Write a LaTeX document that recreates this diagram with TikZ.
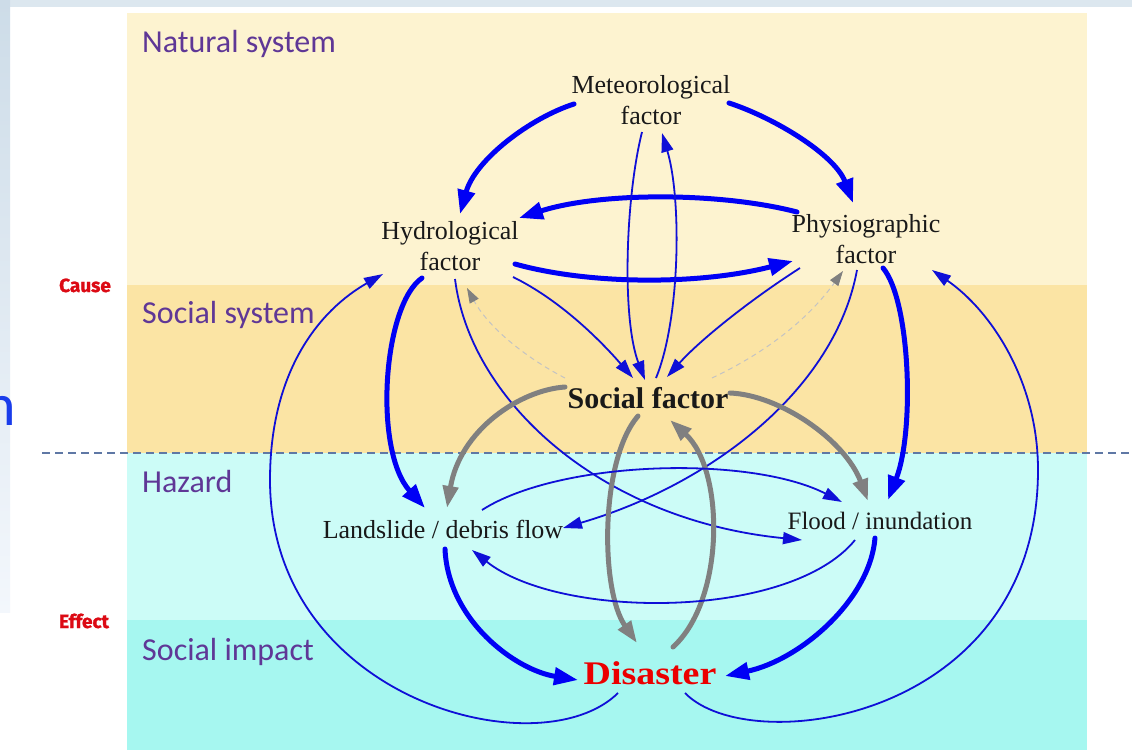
\documentclass[tikz,border=0pt]{standalone}
\usepackage{fontspec}
\usepackage{graphicx}
\setmainfont{Liberation Serif}
\newfontfamily\calib{Carlito}
\newfontfamily\heavy{Fira Sans}[BoldFeatures={FakeBold=1.3}]
\usetikzlibrary{arrows.meta}
\definecolor{natural}{RGB}{253,243,208}
\definecolor{socsys}{RGB}{251,228,164}
\definecolor{hazard}{RGB}{204,252,247}
\definecolor{impact}{RGB}{166,247,240}
\definecolor{labpurple}{RGB}{95,55,150}
\definecolor{dashline}{RGB}{95,120,165}
\definecolor{causered}{RGB}{220,10,20}
\definecolor{disred}{RGB}{235,0,0}
\definecolor{bthick}{RGB}{0,0,245}
\definecolor{bthin}{RGB}{15,15,215}
\definecolor{garr}{RGB}{128,128,128}
\definecolor{gdash}{RGB}{195,195,195}
\definecolor{nblue}{RGB}{25,60,235}
\definecolor{slidebg}{RGB}{205,220,232}
\definecolor{slidelow}{RGB}{243,247,252}
\definecolor{txt}{RGB}{25,25,25}
\begin{document}
\begin{tikzpicture}[x=1pt,y=-1pt,
  fac/.style={font=\fontsize{26}{31}\selectfont, align=center, inner sep=0pt, text=txt},
  bandlabel/.style={font=\calib\fontsize{32}{36}\selectfont, text=labpurple, anchor=base west, inner sep=0pt},
  sidelabel/.style={font=\heavy\bfseries\fontsize{19}{22}\selectfont, text=causered, anchor=base, inner sep=0pt},
  arrthick/.style={draw=bthick, line width=5pt, line cap=round, -{Triangle[length=24pt,width=17pt]}},
  arrthin/.style={draw=bthin, line width=1.8pt, -{Triangle[length=19pt,width=12pt]}},
  arrgray/.style={draw=garr, line width=5pt, line cap=round, -{Triangle[length=22pt,width=15pt]}},
  arrdash/.style={draw=gdash, line width=1pt, dash pattern=on 5pt off 4pt, -{Triangle[length=15pt,width=10pt,fill=garr,color=garr]}},
]
\useasboundingbox (0,0) rectangle (1132,750);
% slide background
\fill[white] (0,0) rectangle (1132,750);
\fill[slidebg!70!white] (0,0) rectangle (1132,7);
\shade[top color=slidebg, bottom color=slidelow] (0,0) rectangle (10,612);
% bands
\fill[natural] (127,13) rectangle (1087,285);
\fill[socsys] (127,285) rectangle (1087,453);
\fill[hazard] (127,453) rectangle (1087,620);
\fill[impact] (127,620) rectangle (1087,750);
\draw[dashline, line width=1.5pt, dash pattern=on 8pt off 5pt] (42,453) -- (1132,453);
% band labels
\node[bandlabel] (lnat) at (142,52) {Natural system};
\node[bandlabel] (lsoc) at (142,323) {Social system};
\node[bandlabel] (lhaz) at (142,492) {Hazard};
\node[bandlabel] (limp) at (142,660) {Social impact};
\node[sidelabel] (cause) at (85,292) {Cause};
\node[sidelabel] (effect) at (84,628) {Effect};
\node[font=\calib\fontsize{60}{60}\selectfont, text=nblue, anchor=base east, inner sep=0pt] (nn) at (16,425) {n};
% factor nodes
\node[fac] (met) at (651,100) {Meteorological\\factor};
\node[fac] (hyd) at (450,246) {Hydrological\\factor};
\node[fac] (phy) at (866,239) {Physiographic\\factor};
\node[font=\bfseries\fontsize{30}{34}\selectfont, inner sep=0pt, text=txt] (soc) at (648,398) {Social factor};
\node[font=\fontsize{26}{31}\selectfont, inner sep=0pt, text=txt] (land) at (443,529) {Landslide / debris flow};
\node[font=\fontsize{25}{30}\selectfont, inner sep=0pt, text=txt] (flood) at (880,521) {Flood / inundation};
\node[font=\bfseries\fontsize{33}{36}\selectfont, inner sep=0pt, text=disred] (dis) at (650,673) {\scalebox{1.15}[1]{Disaster}};
% connectors among natural factors
\draw[arrthick] ([shift={(-77,4)}]met.center) .. controls (530,118) and (475,160) .. ([shift={(10,-32)}]hyd.center);
\draw[arrthick] ([shift={(78,3)}]met.center) .. controls (775,118) and (835,155) .. ([shift={(-13,-36)}]phy.center);
\draw[arrthick] ([shift={(-69,-27)}]phy.center) .. controls (720,192) and (600,192) .. ([shift={(69,-28)}]hyd.center);
\draw[arrthick] ([shift={(65,18)}]hyd.center) .. controls (590,285) and (700,285) .. ([shift={(-73,22)}]phy.center);
% to / from social factor
\draw[arrthin] ([shift={(-9,32)}]met.center) .. controls (625,200) and (622,320) .. ([shift={(-3,-18)}]soc.center);
\draw[arrthin] ([shift={(8,-20)}]soc.center) .. controls (680,320) and (682,200) .. ([shift={(11,33)}]met.center);
\draw[arrthin] ([shift={(63,31)}]hyd.center) .. controls (560,300) and (600,340) .. ([shift={(-15,-20)}]soc.center);
\draw[arrthin] ([shift={(-66,29)}]phy.center) .. controls (750,300) and (700,340) .. ([shift={(19,-21)}]soc.center);
\draw[arrdash] ([shift={(-83,-20)}]soc.center) .. controls (530,360) and (490,330) .. ([shift={(17,42)}]hyd.center);
\draw[arrdash] ([shift={(64,-20)}]soc.center) .. controls (750,360) and (800,330) .. ([shift={(-23,32)}]phy.center);
% natural factors to hazards
\draw[arrthick] ([shift={(-28,32)}]hyd.center) .. controls (383,305) and (373,450) .. ([shift={(-18,-21)}]land.center);
\draw[arrthin] ([shift={(5,33)}]hyd.center) .. controls (470,400) and (600,520) .. ([shift={(-78,19)}]flood.center);
\draw[arrthick] ([shift={(17,29)}]phy.center) .. controls (910,300) and (915,430) .. ([shift={(8,-21)}]flood.center);
\draw[arrthin] ([shift={(-9,31)}]phy.center) .. controls (835,390) and (710,485) .. ([shift={(120,-1)}]land.center);
% social factor to hazards and disaster
\draw[arrgray] ([shift={(-83,-11)}]soc.center) .. controls (520,390) and (460,430) .. ([shift={(4,-21)}]land.center);
\draw[arrgray] ([shift={(82,-5)}]soc.center) .. controls (780,395) and (845,440) .. ([shift={(-12,-20)}]flood.center);
\draw[arrgray] ([shift={(-10,18)}]soc.center) .. controls (600,460) and (600,590) .. ([shift={(-13,-30)}]dis.center);
\draw[arrgray] ([shift={(23,-26)}]dis.center) .. controls (725,600) and (725,470) .. ([shift={(22,22)}]soc.center);
% hazards
\draw[arrthin] ([shift={(39,-19)}]land.center) .. controls (560,460) and (750,455) .. ([shift={(-38,-19)}]flood.center);
\draw[arrthin] ([shift={(-25,19)}]flood.center) .. controls (790,620) and (560,620) .. ([shift={(29,21)}]land.center);
\draw[arrthick] ([shift={(2,20)}]land.center) .. controls (448,620) and (515,670) .. ([shift={(-72,7)}]dis.center);
\draw[arrthick] ([shift={(-5,17)}]flood.center) .. controls (870,600) and (800,660) .. ([shift={(75,3)}]dis.center);
% feedback loops
\draw[arrthin] ([shift={(-32,20)}]dis.center) .. controls (540,770) and (270,700) .. (270,480) .. controls (270,370) and (320,310) .. ([shift={(-67,28)}]hyd.center);
\draw[arrthin] ([shift={(35,20)}]dis.center) .. controls (750,760) and (1038,720) .. (1038,470) .. controls (1038,380) and (990,310) .. ([shift={(66,31)}]phy.center);
\end{tikzpicture}
\end{document}
